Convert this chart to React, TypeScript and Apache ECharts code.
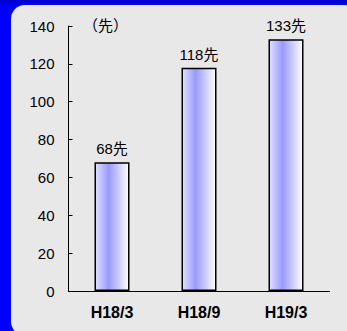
import React, { useEffect, useRef } from "react";
import * as echarts from "echarts";

const categories = ["H18/3", "H18/9", "H19/3"];
const values = [68, 118, 133];
const yTicks = { min: 0, max: 140, interval: 20 };
const unitLabel = "（先）";
const suffix = "先";

export default function App() {
  const ref = useRef<HTMLDivElement>(null);
  useEffect(() => {
    if (!ref.current) return;
    const chart = echarts.init(ref.current, undefined, { renderer: "svg" });
    const font = "'Liberation Sans', Arial, 'Noto Sans CJK JP', sans-serif";
    chart.setOption({
      animation: false,
      textStyle: { fontFamily: font },
      grid: { left: 68.5, right: 17.5, top: 26, bottom: 40 },
      graphic: [
        {
          type: "text",
          left: 83,
          top: 18,
          style: { text: unitLabel, font: `15px ${font}`, fill: "#000" },
        },
      ],
      xAxis: {
        type: "category",
        data: categories,
        axisLine: { lineStyle: { color: "#000", width: 1 } },
        axisTick: { inside: true, length: 5, lineStyle: { color: "#000" } },
        axisLabel: { color: "#000", fontSize: 16, fontWeight: "bold", margin: 13, fontFamily: font },
      },
      yAxis: {
        type: "value",
        min: yTicks.min,
        max: yTicks.max,
        interval: yTicks.interval,
        splitLine: { show: false },
        axisLine: { show: true, lineStyle: { color: "#000", width: 1 } },
        axisTick: { show: true, inside: true, length: 4, lineStyle: { color: "#000" } },
        axisLabel: { color: "#000", fontSize: 15, margin: 14, fontFamily: font },
      },
      series: [
        {
          type: "bar",
          data: values,
          barWidth: 35,
          itemStyle: {
            borderColor: "#000",
            borderWidth: 1.5,
            color: new echarts.graphic.LinearGradient(0, 0, 1, 0, [
              { offset: 0, color: "#e0e0ff" },
              { offset: 0.4, color: "#9a9aff" },
              { offset: 1, color: "#ffffff" },
            ]),
          },
          label: {
            show: true,
            position: "top",
            distance: 6,
            color: "#000",
            fontSize: 15,
            fontFamily: font,
            formatter: (p: any) => `${p.value}${suffix}`,
          },
        },
      ],
    });
    return () => chart.dispose();
  }, []);
  return (
    <div
      style={{
        position: "fixed",
        left: 0,
        top: 0,
        width: 347,
        height: 331,
        overflow: "hidden",
        background: "linear-gradient(#0000c8 0px, #0000ff 6px)",
      }}
    >
      <div
        style={{
          position: "absolute",
          left: 11,
          top: 5,
          width: 340,
          height: 332,
          borderRadius: "14px 6px 16px 16px",
          background: "#e8e8e8",
        }}
      />
      <div ref={ref} style={{ position: "absolute", left: 0, top: 0, width: 347, height: 331 }} />
    </div>
  );
}
